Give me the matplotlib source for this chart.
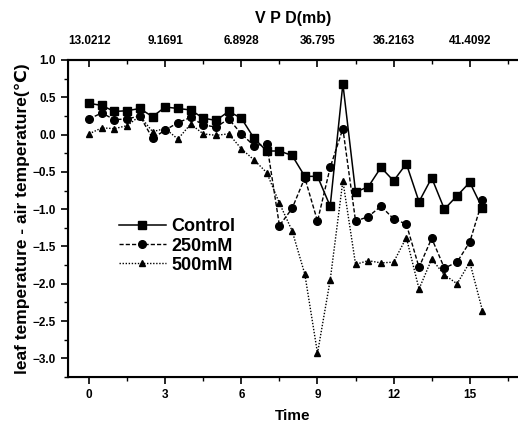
import numpy as np
import matplotlib.pyplot as plt
from matplotlib.ticker import MultipleLocator

plt.rcParams['font.family'] = ['Liberation Sans', 'DejaVu Sans']
plt.rcParams['font.weight'] = 'bold'

time = np.arange(0, 16, 0.5)

control = [0.42, 0.39, 0.31, 0.32, 0.35, 0.24, 0.37, 0.35, 0.33, 0.22, 0.19, 0.31,
           0.22, -0.05, -0.22, -0.22, -0.28, -0.56, -0.56, -0.96, 0.68, -0.77,
           -0.70, -0.44, -0.62, -0.39, -0.90, -0.58, -1.00, -0.82, -0.64, -0.99]
mm250 = [0.21, 0.29, 0.20, 0.21, 0.25, -0.05, 0.06, 0.16, 0.23, 0.13, 0.10, 0.21,
         0.01, -0.15, -0.12, -1.22, -0.99, -0.58, -1.16, -0.44, 0.08, -1.16,
         -1.10, -0.96, -1.13, -1.20, -1.78, -1.39, -1.79, -1.71, -1.44, -0.88]
mm500 = [0.01, 0.09, 0.08, 0.12, 0.25, 0.04, 0.08, -0.06, 0.14, 0.01, -0.01, 0.01,
         -0.19, -0.34, -0.51, -0.92, -1.29, -1.87, -2.93, -1.95, -0.62, -1.74,
         -1.69, -1.72, -1.71, -1.38, -2.07, -1.67, -1.88, -2.00, -1.71, -2.36]

top_ticks = [0, 3, 6, 9, 12, 15]
vpd_labels = ['13.0212', '9.1691', '6.8928', '36.795', '36.2163', '41.4092']

fig = plt.figure(figsize=(5.18, 4.24), dpi=100)
ax = fig.add_axes([0.1313, 0.1108, 0.8687, 0.7477])

ax.plot(time, control, color='black', linestyle='-', linewidth=1.1,
        marker='s', markersize=5.5, label='Control')
ax.plot(time, mm250, color='black', linestyle=(0, (3, 1.5)), linewidth=1.0,
        marker='o', markersize=5.5, label='250mM')
ax.plot(time, mm500, color='black', linestyle=(0, (1, 1.2)), linewidth=1.0,
        marker='^', markersize=5, label='500mM')

ax.set_xlim(-0.83, 16.9)
ax.set_ylim(-3.25, 1.0)
ax.xaxis.set_major_locator(MultipleLocator(3))
ax.xaxis.set_minor_locator(MultipleLocator(1.5))
ax.yaxis.set_major_locator(MultipleLocator(0.5))
ax.yaxis.set_minor_locator(MultipleLocator(0.25))
ax.tick_params(which='major', direction='out', length=5, width=1.2, labelsize=8.5)
ax.tick_params(which='minor', direction='out', length=3, width=1.0)
ax.spines['right'].set_visible(False)
for s in ['left', 'bottom', 'top']:
    ax.spines[s].set_linewidth(1.5)
for lab in ax.get_xticklabels() + ax.get_yticklabels():
    lab.set_fontweight('bold')

ax.set_xlabel('Time', fontsize=11, fontweight='bold', labelpad=6)
ax.set_ylabel('leaf temperature - air temperature(\u2103)', fontsize=12.5,
              fontweight='bold', labelpad=2)

top = ax.twiny()
top.set_xlim(ax.get_xlim())
top.set_xticks(top_ticks)
top.set_xticklabels(vpd_labels, fontsize=8.5, fontweight='bold')
top.xaxis.set_minor_locator(MultipleLocator(1.5))
top.tick_params(which='major', direction='in', length=5, width=1.2, pad=9)
top.tick_params(which='minor', direction='in', length=3, width=1.0)
top.spines['right'].set_visible(False)
top.spines['top'].set_linewidth(1.5)
top.set_xlabel('V P D(mb)', fontsize=11.5, fontweight='bold', labelpad=9)

leg = ax.legend(loc='upper left', bbox_to_anchor=(0.085, 0.54), frameon=False,
                prop={'size': 13, 'weight': 'bold'}, handlelength=2.6,
                handletextpad=0.3, labelspacing=0.12, borderpad=0.2)

fig.savefig('out.png', dpi=100)
